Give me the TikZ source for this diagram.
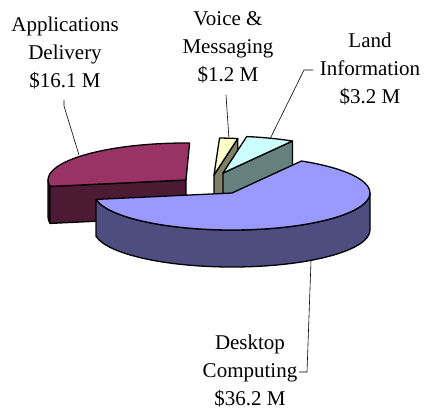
\documentclass[tikz,border=0pt]{standalone}
\usepackage{fontspec}
\setmainfont{Liberation Serif}
\usetikzlibrary{calc}
\definecolor{deskTop}{RGB}{153,153,255}
\definecolor{deskSide}{RGB}{77,77,128}
\definecolor{appTop}{RGB}{153,51,102}
\definecolor{appSide}{RGB}{77,26,51}
\definecolor{voiceTop}{RGB}{255,255,204}
\definecolor{voiceSide}{RGB}{128,128,102}
\definecolor{landTop}{RGB}{204,255,255}
\definecolor{landSide}{RGB}{102,128,128}
\begin{document}
\begin{tikzpicture}[x=1pt,y=1pt,
  face/.style={draw=black,line width=1.3pt,line join=round},
  leader/.style={draw=black,line width=0.6pt},
  lbl/.style={font=\fontsize{21}{28}\selectfont,align=center,inner sep=0pt,anchor=north},
  ell/.style={x radius=138,y radius=37}]
\useasboundingbox (0,0) rectangle (424,-409);

% slice apexes
\coordinate (A) at (186,-180);
\coordinate (V) at (214,-175);
\coordinate (L) at (223,-173);
\coordinate (D) at (232,-193);

% Applications Delivery (88.5 to 190 deg)
\path[face,fill=appSide] (A) ++(180:138 and 37) arc[ell,start angle=180,end angle=190]
  -- ++(0,-37) arc[ell,start angle=190,end angle=180] -- cycle;
\path[face,fill=appSide] (A) -- ++(190:138 and 37) -- ++(0,-37) -- ($(A)+(0,-37)$) -- cycle;
\path[face,fill=appTop] (A) -- ++(88.5:138 and 37) arc[ell,start angle=88.5,end angle=190] -- cycle;

% Voice & Messaging (80.1 to 87.7 deg)
\path[face,fill=voiceSide] (V) -- ++(80.1:138 and 37) -- ++(0,-37) -- ($(V)+(0,-37)$) -- cycle;
\path[face,fill=voiceTop] (V) -- ++(80.1:138 and 37) arc[ell,start angle=80.1,end angle=87.7] -- cycle;

% Land Information (59.8 to 80.1 deg)
\path[face,fill=landSide] (L) -- ++(59.8:138 and 37) -- ++(0,-37) -- ($(L)+(0,-37)$) -- cycle;
\path[face,fill=landTop] (L) -- ++(59.8:138 and 37) arc[ell,start angle=59.8,end angle=80.1] -- cycle;

% Desktop Computing (190 to 419.8 deg)
\path[face,fill=deskSide] (D) ++(190:138 and 37) arc[ell,start angle=190,end angle=360]
  -- ++(0,-37) arc[ell,start angle=360,end angle=190] -- cycle;
\path[face,fill=deskTop] (D) -- ++(190:138 and 37) arc[ell,start angle=190,end angle=419.8] -- cycle;

% labels
\node[lbl] (applab) at (65,-17) {Applications\\Delivery\\\$16.1 M};
\node[lbl] (voicelab) at (228,-11.5) {Voice \&\\Messaging\\\$1.2 M};
\node[lbl] (landlab) at (370,-32.5) {Land\\Information\\\$3.2 M};
\node[lbl] (desklab) at (250,-334.5) {Desktop\\Computing\\\$36.2 M};

% leader lines
\coordinate (appS) at (64,-100);
\coordinate (appK) at (64,-106);
\coordinate (appE) at (79,-155);
\draw[leader] (appS) -- (appK) -- (appE);
\coordinate (voiceS) at (226,-95);
\coordinate (voiceE) at (229,-139);
\draw[leader] (voiceS) -- (voiceE);
\coordinate (landS) at (313,-70);
\coordinate (landK) at (304,-70);
\coordinate (landE) at (270,-139);
\draw[leader] (landS) -- (landK) -- (landE);
\coordinate (deskS) at (311,-261);
\coordinate (deskK) at (307,-372);
\coordinate (deskE) at (299,-372);
\draw[leader] (deskS) -- (deskK) -- (deskE);
\end{tikzpicture}
\end{document}
